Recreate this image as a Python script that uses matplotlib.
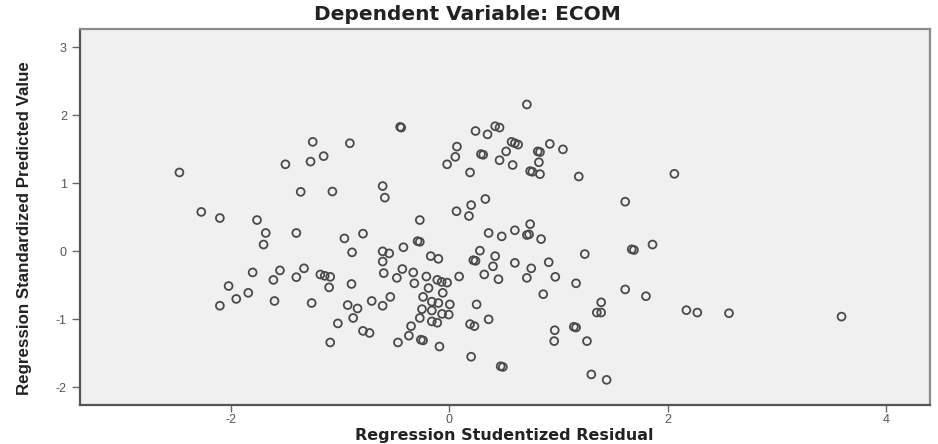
import matplotlib
matplotlib.use("Agg")
import matplotlib.pyplot as plt
from matplotlib import font_manager

# Data (Regression Studentized Residual vs Standardized Predicted Value)
residual = [
    -2.47, -2.27, -2.10, -1.76, -1.68, -1.40, -1.70, -1.50, -1.25, -1.27,
    -1.15, -1.36, -1.07, -0.91, -0.45, -0.44, -0.61, -0.59, -0.27, -0.79,
    -0.96, -0.29, -0.27, -0.02, 0.055, 0.07, 0.066, -0.89, -0.61, -0.55,
    -0.42, -0.61, -0.17, -0.10, -1.80, -1.55, -1.33, -1.40, -1.61, -1.18,
    -1.14, -1.09, -1.10, -2.02, -1.84, -1.95, -2.10, -1.60, -1.26, -1.09,
    -0.895, -0.60, -0.43, -0.33, -0.48, -0.32, -0.21, -0.11, -0.07, -0.02,
    -0.19, -0.06, -0.54, -0.71, -0.93, -0.84, -0.61, -0.24, -0.16, -0.10,
    0.005, -0.25, -0.16, -0.066, -0.005, -0.88, -0.27, -0.16, -0.11, -1.02,
    -0.35, -0.79, -0.73, -0.37, -0.26, -0.24, -0.47, -0.09, 0.09,
    0.28, 0.22, 0.24, 0.42, 0.40, 0.60, 0.75, 0.91, 0.32, 0.45,
    0.71, 0.97, 0.86, 1.16, 0.25, 0.36, 0.19, 0.23, 0.965, 0.96,
    1.14, 1.16, 0.20, 0.47, 0.49,
    0.18, 0.20, 0.33, 0.74, 0.36, 0.48, 0.60, 0.71, 0.73, 0.84,
    0.71, 0.24, 0.35, 0.42, 0.46, 0.29, 0.31, 0.57, 0.60, 0.63,
    0.52, 0.46, 0.58, 0.19, 0.92, 1.04, 0.81, 0.83, 0.82, 0.74,
    0.76, 0.83, 1.185, 2.06, 1.61,
    1.24, 1.67, 1.69, 1.86, 1.61, 1.80, 1.39, 1.35, 1.39, 2.17,
    2.27, 2.56, 3.59, 1.26, 1.30, 1.44,
]
predicted = [
    1.16, 0.58, 0.49, 0.46, 0.27, 0.27, 0.10, 1.28, 1.61, 1.32,
    1.40, 0.875, 0.88, 1.59, 1.83, 1.82, 0.96, 0.79, 0.46, 0.26,
    0.19, 0.15, 0.14, 1.28, 1.39, 1.54, 0.59, -0.015, 0.00, -0.03,
    0.06, -0.15, -0.07, -0.11, -0.31, -0.28, -0.25, -0.38, -0.42, -0.34,
    -0.36, -0.375, -0.53, -0.51, -0.61, -0.70, -0.80, -0.73, -0.76, -1.34,
    -0.48, -0.32, -0.26, -0.31, -0.39, -0.47, -0.37, -0.42, -0.45, -0.46,
    -0.54, -0.61, -0.67, -0.73, -0.79, -0.84, -0.80, -0.67, -0.74, -0.76,
    -0.78, -0.85, -0.87, -0.92, -0.93, -0.98, -0.98, -1.03, -1.05, -1.06,
    -1.10, -1.17, -1.20, -1.24, -1.30, -1.31, -1.34, -1.40, -0.37,
    0.01, -0.13, -0.14, -0.07, -0.22, -0.17, -0.25, -0.16, -0.34, -0.41,
    -0.39, -0.375, -0.63, -0.47, -0.78, -1.00, -1.07, -1.10, -1.16, -1.32,
    -1.11, -1.12, -1.55, -1.69, -1.70,
    0.52, 0.68, 0.77, 0.40, 0.27, 0.22, 0.31, 0.24, 0.25, 0.18,
    2.16, 1.77, 1.72, 1.84, 1.82, 1.43, 1.42, 1.61, 1.59, 1.57,
    1.47, 1.34, 1.27, 1.16, 1.58, 1.50, 1.47, 1.46, 1.31, 1.18,
    1.17, 1.135, 1.10, 1.14, 0.73,
    -0.04, 0.03, 0.02, 0.10, -0.56, -0.66, -0.75, -0.90, -0.90, -0.865,
    -0.90, -0.91, -0.96, -1.32, -1.81, -1.89,
]

x_ticks = [-2, 0, 2, 4]
y_ticks = [-2, -1, 0, 1, 2, 3]

title = "Dependent Variable: ECOM"
x_label = "Regression Studentized Residual"
y_label = "Regression Standardized Predicted Value"

available = {f.name for f in font_manager.fontManager.ttflist}
narrow = "Liberation Sans Narrow" if "Liberation Sans Narrow" in available else "Liberation Sans"

plt.rcParams["font.family"] = ["Liberation Sans", "DejaVu Sans"]

fig = plt.figure(figsize=(9.38, 4.44), dpi=100)
fig.patch.set_facecolor("white")
ax = fig.add_axes([0.0853, 0.0878, 0.9062, 0.8469])
ax.set_facecolor("#f0f0f0")

ax.scatter(residual, predicted, s=32, facecolors="none", edgecolors="#4a4a4a",
           linewidths=1.3, zorder=3)

ax.set_xlim(-3.38, 4.40)
ax.set_ylim(-2.26, 3.27)
ax.set_xticks(x_ticks)
ax.set_yticks(y_ticks)
ax.set_xticklabels([str(v) for v in x_ticks])
ax.set_yticklabels([str(v) for v in y_ticks])
ax.tick_params(axis="both", direction="out", length=6, width=1.0,
               colors="#666666", labelsize=9, labelcolor="#555555")
ax.tick_params(axis="x", length=5, pad=1.5)

for side in ["left", "bottom"]:
    ax.spines[side].set_color("#555555")
    ax.spines[side].set_linewidth(1.6)
for side in ["top", "right"]:
    ax.spines[side].set_color("#8a8a8a")
    ax.spines[side].set_linewidth(1.6)

fig.text(0.498, 0.968, title, ha="center", va="center", fontsize=14.5,
         fontweight="bold", color="#222222", family=["DejaVu Sans"])
fig.text(0.026, 0.487, y_label, rotation=90, ha="center", va="center",
         fontsize=12.2, fontweight="bold", color="#222222",
         family=[narrow, "DejaVu Sans"])
fig.text(0.538, 0.003, x_label, ha="center", va="bottom", fontsize=11.5,
         fontweight="bold", color="#222222", family=["DejaVu Sans"])

fig.savefig("out.png", dpi=100, facecolor="white")
